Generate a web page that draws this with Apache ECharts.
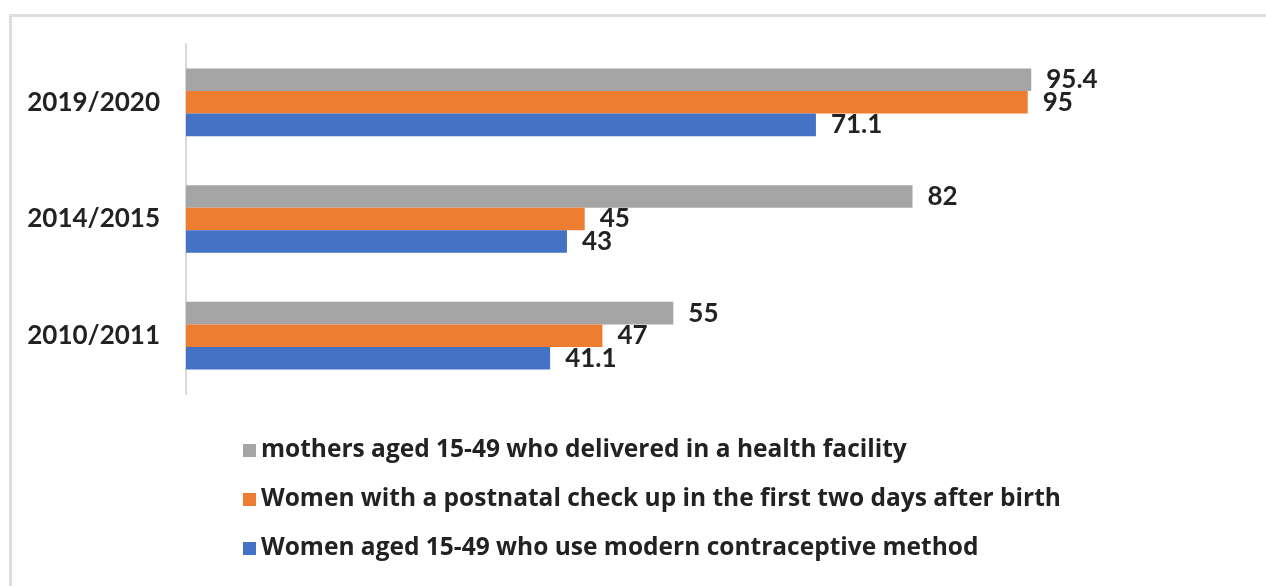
<!DOCTYPE html>
<html>
<head>
<meta charset="utf-8">
<script src="https://cdn.jsdelivr.net/npm/echarts@6/dist/echarts.min.js"></script>
<style>
html,body{margin:0;padding:0;background:#fff;}
#frame{position:absolute;left:9px;top:14px;right:-10px;bottom:-10px;border-left:3px solid #dedede;border-top:3px solid #dedede;}
#chart{position:absolute;left:0;top:0;width:1266px;height:586px;}
</style>
</head>
<body>
<div id="frame"></div>
<div id="chart"></div>
<script>
const categories = ['2010/2011', '2014/2015', '2019/2020'];
const deliveredFacility = [55, 82, 95.4];
const postnatalCheck = [47, 45, 95];
const modernContraceptive = [41.1, 43, 71.1];
const seriesNames = [
  'mothers aged 15-49 who delivered in a health facility',
  'Women with a postnatal check up in the first two days after birth',
  'Women aged 15-49 who use modern contraceptive method'
];
const colors = ['#a5a5a5', '#ed7d31', '#4472c4'];

const fontFamily = 'Lato, "Open Sans", sans-serif';
const labelStyle = {
  show: true, position: 'right', distance: 15,
  fontFamily: fontFamily, fontWeight: 'bold', fontSize: 26, color: '#222'
};

const chart = echarts.init(document.getElementById('chart'), null, {renderer: 'canvas'});
chart.setOption({
  backgroundColor: 'transparent',
  animation: false,
  grid: {left: 186, right: 194, top: 44, bottom: 192, containLabel: false},
  xAxis: {
    type: 'value', min: 0, max: 100,
    show: false
  },
  yAxis: {
    type: 'category', data: categories,
    axisLine: {show: true, lineStyle: {color: '#d9d9d9', width: 2}},
    axisTick: {show: false},
    axisLabel: {fontFamily: fontFamily, fontWeight: 'bold', fontSize: 26, color: '#222', margin: 26}
  },
  legend: {
    orient: 'vertical', left: 238, top: 432,
    itemWidth: 13, itemHeight: 13, itemGap: 22,
    icon: 'rect',
    data: [seriesNames[0], seriesNames[1], seriesNames[2]],
    textStyle: {fontFamily: '"Open Sans", sans-serif', fontWeight: 'bold', fontSize: 24.5, color: '#222', lineHeight: 27}
  },
  series: [
    {name: seriesNames[0], type: 'bar', data: deliveredFacility, itemStyle: {color: colors[0]},
     barGap: '0%', barCategoryGap: '42%', label: labelStyle},
    {name: seriesNames[1], type: 'bar', data: postnatalCheck, itemStyle: {color: colors[1]},
     barGap: '0%', barCategoryGap: '42%', label: labelStyle},
    {name: seriesNames[2], type: 'bar', data: modernContraceptive, itemStyle: {color: colors[2]},
     barGap: '0%', barCategoryGap: '42%', label: labelStyle}
  ]
});
</script>
</body>
</html>
